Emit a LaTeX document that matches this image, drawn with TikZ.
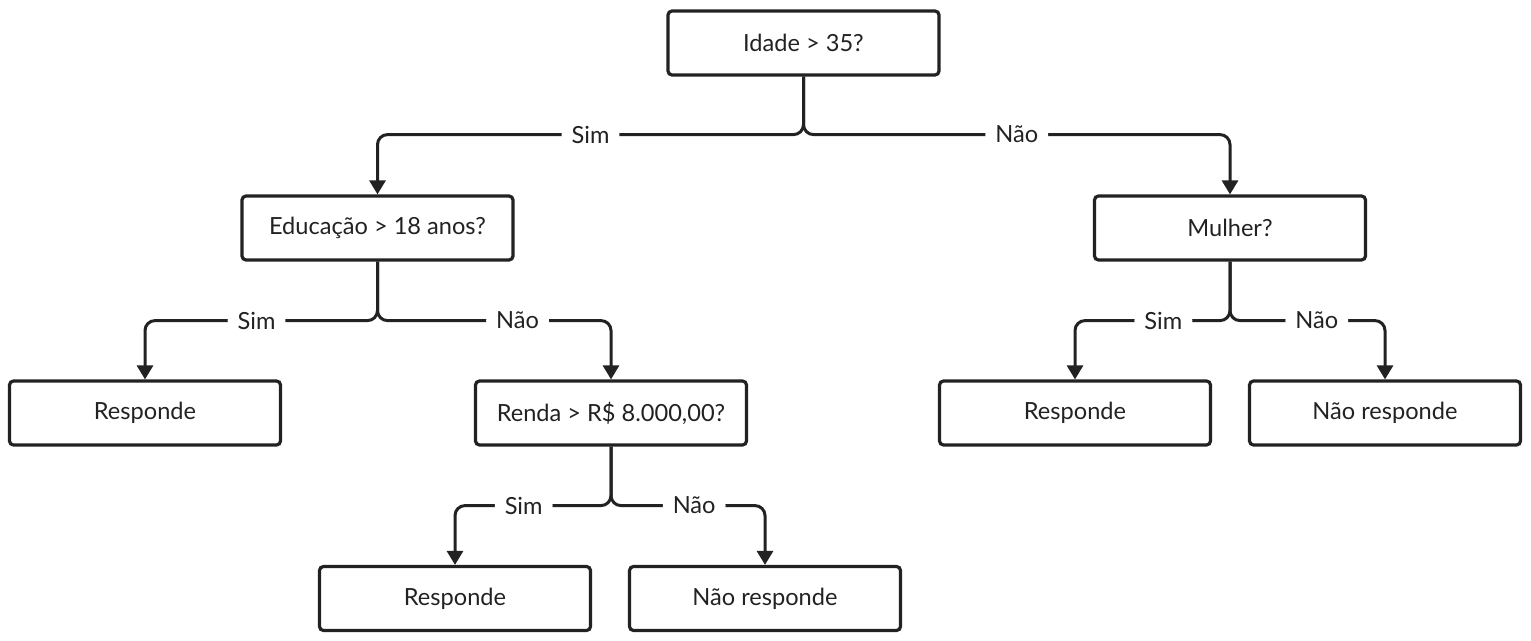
\documentclass[tikz,border=0pt]{standalone}
\usepackage{fontspec}
\setmainfont{Lato}
\usetikzlibrary{arrows.meta}

\definecolor{linha}{RGB}{34,34,34}

\tikzset{
  caixa/.style={draw=linha, text=linha, line width=1.6pt, rounded corners=2pt,
    minimum width=135.5pt, minimum height=32pt, inner sep=0pt,
    font=\fontsize{11.8}{14}\selectfont},
  ramo/.style={draw=linha, line width=1.5pt, rounded corners=5pt,
    -{Triangle[width=8pt,length=7pt]}},
  rotulo/.style={fill=white, text=linha, inner xsep=5pt, inner ysep=1pt,
    font=\fontsize{11.8}{14}\selectfont}
}

\begin{document}
\begin{tikzpicture}[x=0.5pt,y=-0.5pt]
    \useasboundingbox (0,0) rectangle (1531,641);
    % perguntas
    \node[caixa] (idade) at (803.5,43) {Idade > 35?};
    \node[caixa] (educ) at (377.5,228) {Educação > 18 anos?};
    \node[caixa] (mulher) at (1230,228) {Mulher?};
    \node[caixa] (renda) at (611,413) {Renda > R\$ 8.000,00?};
    % respostas
    \node[caixa] (resp1) at (145,413) {Responde};
    \node[caixa] (resp2) at (1075,413) {Responde};
    \node[caixa] (naoresp2) at (1385,413) {Não responde};
    \node[caixa] (resp3) at (455,598.5) {Responde};
    \node[caixa] (naoresp3) at (765,598.5) {Não responde};
    % ramos
    \draw[ramo] (idade.south) -- ++(0,58) -| node[rotulo,pos=0.25] {Sim} (educ.north);
    \draw[ramo] (idade.south) -- ++(0,58) -| node[rotulo,pos=0.25] {Não} (mulher.north);
    \draw[ramo] (educ.south) -- ++(0,59) -| node[rotulo,pos=0.26] {Sim} (resp1.north);
    \draw[ramo] (educ.south) -- ++(0,59) -| node[rotulo,pos=0.30] {Não} (renda.north);
    \draw[ramo] (mulher.south) -- ++(0,59) -| node[rotulo,pos=0.215] {Sim} (resp2.north);
    \draw[ramo] (mulher.south) -- ++(0,59) -| node[rotulo,pos=0.28] {Não} (naoresp2.north);
    \draw[ramo] (renda.south) -- ++(0,59) -| node[rotulo,pos=0.28] {Sim} (resp3.north);
    \draw[ramo] (renda.south) -- ++(0,59) -| node[rotulo,pos=0.27] {Não} (naoresp3.north);
\end{tikzpicture}
\end{document}
